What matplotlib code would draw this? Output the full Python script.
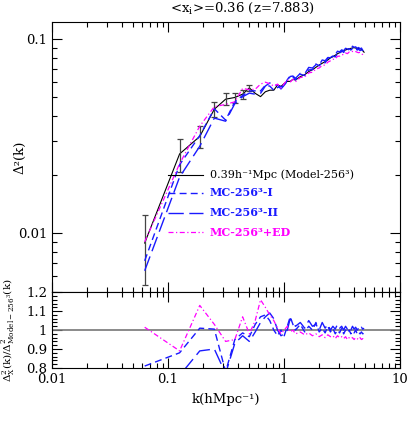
import numpy as np
import matplotlib.pyplot as plt
from matplotlib.ticker import LogLocator, NullFormatter, MultipleLocator

plt.rcParams['font.family'] = 'DejaVu Serif'
plt.rcParams['mathtext.fontset'] = 'dejavuserif'

# k bins (h/Mpc)
k = [0.063, 0.126, 0.188, 0.251, 0.314, 0.377, 0.440, 0.503, 0.565, 0.628,
     0.691, 0.754, 0.817, 0.880, 0.942, 1.005, 1.068, 1.131, 1.194, 1.257,
     1.382, 1.508, 1.634, 1.759, 1.885, 2.011, 2.136, 2.262, 2.388, 2.513,
     2.639, 2.765, 2.890, 3.016, 3.142, 3.267, 3.393, 3.519, 3.644, 3.770,
     3.896, 4.021, 4.147, 4.273, 4.398, 4.524, 4.650, 4.775, 4.901]

# Model-256^3 power spectrum
model = [0.0089, 0.0256, 0.0315, 0.0435, 0.049, 0.050, 0.052, 0.056, 0.0525, 0.0505,
         0.0535, 0.0545, 0.0545, 0.058, 0.057, 0.059, 0.0605, 0.0605, 0.062, 0.0615,
         0.064, 0.0655, 0.068, 0.0695, 0.0715, 0.0735, 0.075, 0.0765, 0.078, 0.080,
         0.081, 0.0825, 0.084, 0.085, 0.0862, 0.087, 0.0878, 0.0885, 0.0892, 0.0895,
         0.090, 0.0902, 0.0898, 0.0895, 0.0895, 0.089, 0.0885, 0.087, 0.0855]

# error bars on the first bins
err = [0.0035, 0.005, 0.004, 0.0039, 0.0035, 0.003, 0.0028, 0.0023]

# ratios to Model-256^3
ratio_I = [0.81, 0.88, 1.01, 1.005, 0.78, 0.95, 0.985, 0.965, 1.03, 1.07,
           1.08, 1.05, 1.0, 0.97, 1.0, 0.97, 1.02, 1.07, 1.03, 1.0,
           1.03, 0.99, 1.02, 1.0, 1.04, 0.99, 1.01, 0.985, 1.02, 0.99,
           1.01, 0.98, 1.0, 0.985, 1.01, 0.98, 1.0, 0.985, 1.0, 0.98,
           0.995, 0.985, 1.0, 0.98, 0.99, 0.98, 0.99, 0.98, 0.985]
ratio_II = [0.72, 0.76, 0.89, 0.90, 0.77, 0.93, 0.97, 0.94, 0.99, 1.04,
            1.07, 1.09, 1.06, 1.0, 0.97, 0.98, 1.0, 1.06, 1.04, 1.02,
            1.04, 1.01, 1.05, 1.02, 1.03, 1.0, 1.04, 1.01, 1.03, 1.0,
            1.02, 1.005, 1.03, 1.01, 1.02, 1.0, 1.02, 1.005, 1.015, 1.0,
            1.02, 1.005, 1.015, 1.0, 1.01, 1.0, 1.015, 1.005, 1.01]
ratio_ED = [1.015, 0.89, 1.13, 1.03, 0.94, 0.95, 1.07, 0.98, 1.05, 1.16,
            1.12, 1.08, 1.05, 1.01, 0.98, 1.0, 1.02, 0.99, 1.0, 0.98,
            0.99, 0.975, 0.985, 0.97, 0.98, 0.965, 0.975, 0.96, 0.975, 0.965,
            0.97, 0.955, 0.97, 0.96, 0.965, 0.955, 0.965, 0.95, 0.96, 0.955,
            0.96, 0.95, 0.96, 0.955, 0.95, 0.96, 0.95, 0.955, 0.95]

labels = ['0.39h⁻¹Mpc (Model-256³)', 'MC-256³-I', 'MC-256³-II', 'MC-256³+ED']

k = np.array(k)
model = np.array(model)
mc_I = model * np.array(ratio_I)
mc_II = model * np.array(ratio_II)
mc_ED = model * np.array(ratio_ED)

blue = '#1a1aff'
mag = '#ff00ff'
sty_I = dict(color=blue, lw=1.0, dashes=(5, 3))
sty_II = dict(color=blue, lw=1.0, dashes=(11, 4))
sty_ED = dict(color=mag, lw=0.9, dashes=(4, 2, 1, 2))

fig = plt.figure(figsize=(4.09, 4.21), dpi=100)
ax1 = fig.add_axes([0.127, 0.306, 0.851, 0.642])
ax2 = fig.add_axes([0.127, 0.126, 0.851, 0.180])

# top panel
ax1.plot(k, model, color='k', lw=0.8)
ax1.errorbar(k[:8], model[:8], yerr=err, fmt='none', ecolor='#444444',
             elinewidth=0.9, capsize=2.5, capthick=0.9)
ax1.plot(k, mc_I, **sty_I)
ax1.plot(k, mc_II, **sty_II)
ax1.plot(k, mc_ED, **sty_ED)
ax1.set_xscale('log')
ax1.set_yscale('log')
ax1.set_xlim(0.01, 10)
ax1.set_ylim(0.00497, 0.1225)
ax1.set_yticks([0.01, 0.1])
ax1.set_yticklabels(['0.01', '0.1'])
ax1.yaxis.set_minor_locator(LogLocator(subs=range(2, 10)))
ax1.yaxis.set_minor_formatter(NullFormatter())
ax1.xaxis.set_minor_locator(LogLocator(subs=range(2, 10)))
ax1.set_xticklabels([])
ax1.xaxis.set_minor_formatter(NullFormatter())
ax1.set_ylabel('Δ²(k)', fontsize=9.5)
ax1.yaxis.set_label_coords(-0.072, 0.5)

# legend drawn by hand
ly = [0.433, 0.367, 0.293, 0.222]
styles = [dict(color='k', lw=0.8), sty_I, sty_II, sty_ED]
colors = ['k', blue, blue, mag]
weights = ['normal', 'bold', 'bold', 'bold']
for y, st, c, w, lab in zip(ly, styles, colors, weights, labels):
    ax1.plot([0.333, 0.434], [y, y], transform=ax1.transAxes, **st)
    ax1.text(0.454, y, lab, transform=ax1.transAxes, color=c, fontweight=w,
             fontsize=8, va='center', ha='left')

# bottom panel
ax2.axhline(1.0, color='#777777', lw=1.2)
ax2.plot(k, ratio_I, **sty_I)
ax2.plot(k, ratio_II, **sty_II)
ax2.plot(k, ratio_ED, **sty_ED)
ax2.set_xscale('log')
ax2.set_xlim(0.01, 10)
ax2.set_ylim(0.8, 1.2)
ax2.set_xticks([0.01, 0.1, 1, 10])
ax2.set_xticklabels(['0.01', '0.1', '1', '10'])
ax2.xaxis.set_minor_locator(LogLocator(subs=range(2, 10)))
ax2.xaxis.set_minor_formatter(NullFormatter())
ax2.set_yticks([0.8, 0.9, 1.0, 1.1, 1.2])
ax2.set_yticklabels(['0.8', '0.9', '1', '1.1', '1.2'])
ax2.yaxis.set_minor_locator(MultipleLocator(0.02))
ax2.set_xlabel('k(hMpc⁻¹)', fontsize=9.5, labelpad=5)
ax2.set_ylabel(r'$\Delta^2_{\rm X}{\rm (k)}/\Delta^2_{\rm Model-256^3}{\rm (k)}$', fontsize=7.5)
ax2.yaxis.set_label_coords(-0.100, 0.5)

for ax in (ax1, ax2):
    ax.tick_params(which='both', direction='in', top=True, right=True, labelsize=9.5)
    ax.tick_params(which='major', length=7, width=0.8)
    ax.tick_params(which='minor', length=3.5, width=0.8)

fig.text(0.592, 0.979, r'<x$_{\rm i}$>=0.36 (z=7.883)', ha='center', va='center', fontsize=9.5)

fig.savefig('out.png', dpi=100)
